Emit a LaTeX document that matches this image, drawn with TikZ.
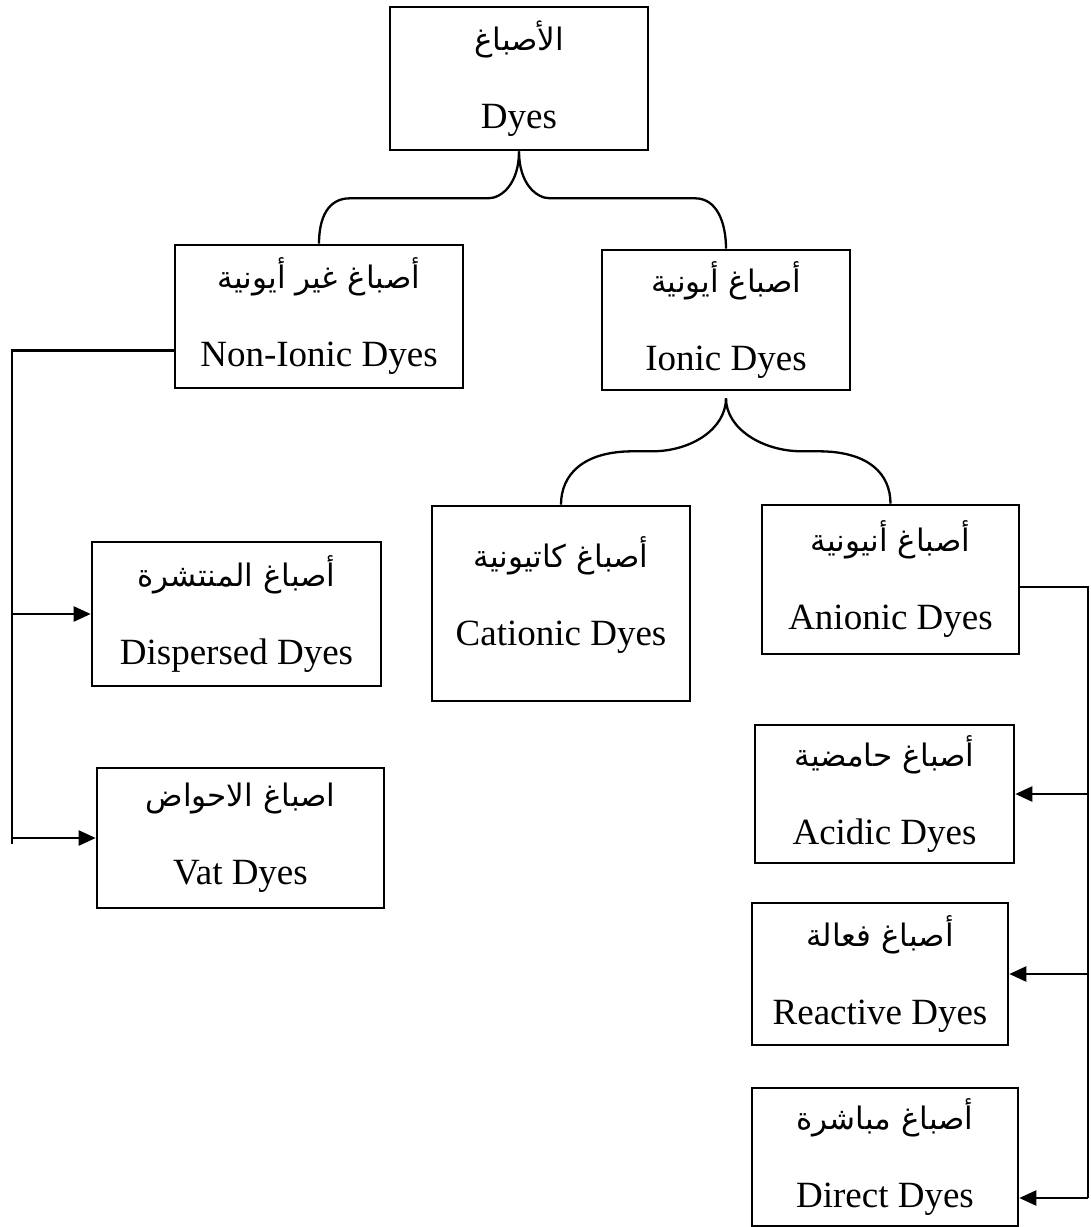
\documentclass[tikz,border=0pt]{standalone}
\usepackage{fontspec}
\setmainfont{Liberation Serif}
\newfontfamily\arfont[Script=Arabic]{DejaVu Sans}
\TeXXeTstate=1
\usetikzlibrary{arrows.meta,calc}

% two lines in every box: Arabic above, English below
\newcommand{\dyetext}[2]{{\arfont\fontsize{31}{37}\selectfont\beginR #1\endR}\\[34pt]#2}

\begin{document}
\begin{tikzpicture}[x=1pt,y=-1pt,
    dyebox/.style = {draw, line width=2.6pt, align=center, inner sep=0pt,
      font=\fontsize{37}{44}\selectfont},
    link/.style = {line width=2.3pt, line join=miter},
    arr/.style = {link, -{Triangle[length=17pt,width=15pt]}}]
  \useasboundingbox (0,0) rectangle (1091,1227);

  % boxes
  \node[dyebox, minimum width=258pt, minimum height=143pt] (dyes) at (519,78.5) {\dyetext{الأصباغ}{Dyes}};
  \node[dyebox, minimum width=288pt, minimum height=143pt] (nonionic) at (319,316.5) {\dyetext{أصباغ غير أيونية}{Non-Ionic Dyes}};
  \node[dyebox, minimum width=248pt, minimum height=140pt] (ionic) at (726,320) {\dyetext{أصباغ أيونية}{Ionic Dyes}};
  \node[dyebox, minimum width=258pt, minimum height=195pt] (cationic) at (561,603.5) {\dyetext{أصباغ كاتيونية}{Cationic Dyes}\\[-20pt]};
  \node[dyebox, minimum width=257pt, minimum height=149pt] (anionic) at (890.5,579.5) {\dyetext{أصباغ أنيونية}{Anionic Dyes}};
  \node[dyebox, minimum width=289pt, minimum height=144pt] (dispersed) at (236.5,614) {\dyetext{أصباغ المنتشرة}{Dispersed Dyes}};
  \node[dyebox, minimum width=287pt, minimum height=140pt] (vat) at (240.5,838) {\dyetext{اصباغ الاحواض}{Vat Dyes}};
  \node[dyebox, minimum width=259pt, minimum height=138pt] (acidic) at (884.5,794) {\dyetext{أصباغ حامضية}{Acidic Dyes}};
  \node[dyebox, minimum width=256pt, minimum height=142pt] (reactive) at (880,974) {\dyetext{أصباغ فعالة}{Reactive Dyes}};
  \node[dyebox, minimum width=266pt, minimum height=138pt] (direct) at (885,1157) {\dyetext{أصباغ مباشرة}{Direct Dyes}};

  % braces
  \draw[link] (dyes.south) .. controls +(0,32) and +(14,0) .. ++(-31,47) coordinate (b1l)
    -- ($(nonionic.north |- b1l)+(31,0)$) .. controls +(-22,0) and +(0,-26) .. (nonionic.north);
  \draw[link] (dyes.south) .. controls +(0,32) and +(-14,0) .. ++(31,47) coordinate (b1r)
    -- ($(ionic.north |- b1r)+(-31,0)$) .. controls +(22,0) and +(0,-26) .. (ionic.north);
  \draw[link] ($(ionic.south)+(0,7)$) .. controls +(0,30) and +(40,0) .. ++(-74,53) coordinate (b2l)
    -- ($(cationic.north |- b2l)+(72,0)$) .. controls +(-50,0) and +(0,-30) .. (cationic.north);
  \draw[link] ($(ionic.south)+(0,7)$) .. controls +(0,30) and +(-40,0) .. ++(76,53) coordinate (b2r)
    -- ($(anionic.north |- b2r)+(-72,0)$) .. controls +(50,0) and +(0,-30) .. (anionic.north);

  % left bar
  \coordinate (lbar) at (12,0);
  \draw[link] ($(nonionic.west)+(0,34)$) -| ($(lbar |- vat.west)+(0,6)$);
  \draw[arr] (lbar |- dispersed.west) -- (dispersed.west);
  \draw[arr] (lbar |- vat.west) -- (vat.west);

  % right bar
  \coordinate (rbar) at (1088,0);
  \draw[link] ($(anionic.east)+(0,7.5)$) -| ($(rbar |- direct.east)+(0,41)$);
  \draw[arr] (rbar |- acidic.east) -- (acidic.east);
  \draw[arr] (rbar |- reactive.east) -- (reactive.east);
  \draw[arr] ($(rbar |- direct.east)+(0,41)$) -- ($(direct.east)+(0,41)$);
\end{tikzpicture}
\end{document}
